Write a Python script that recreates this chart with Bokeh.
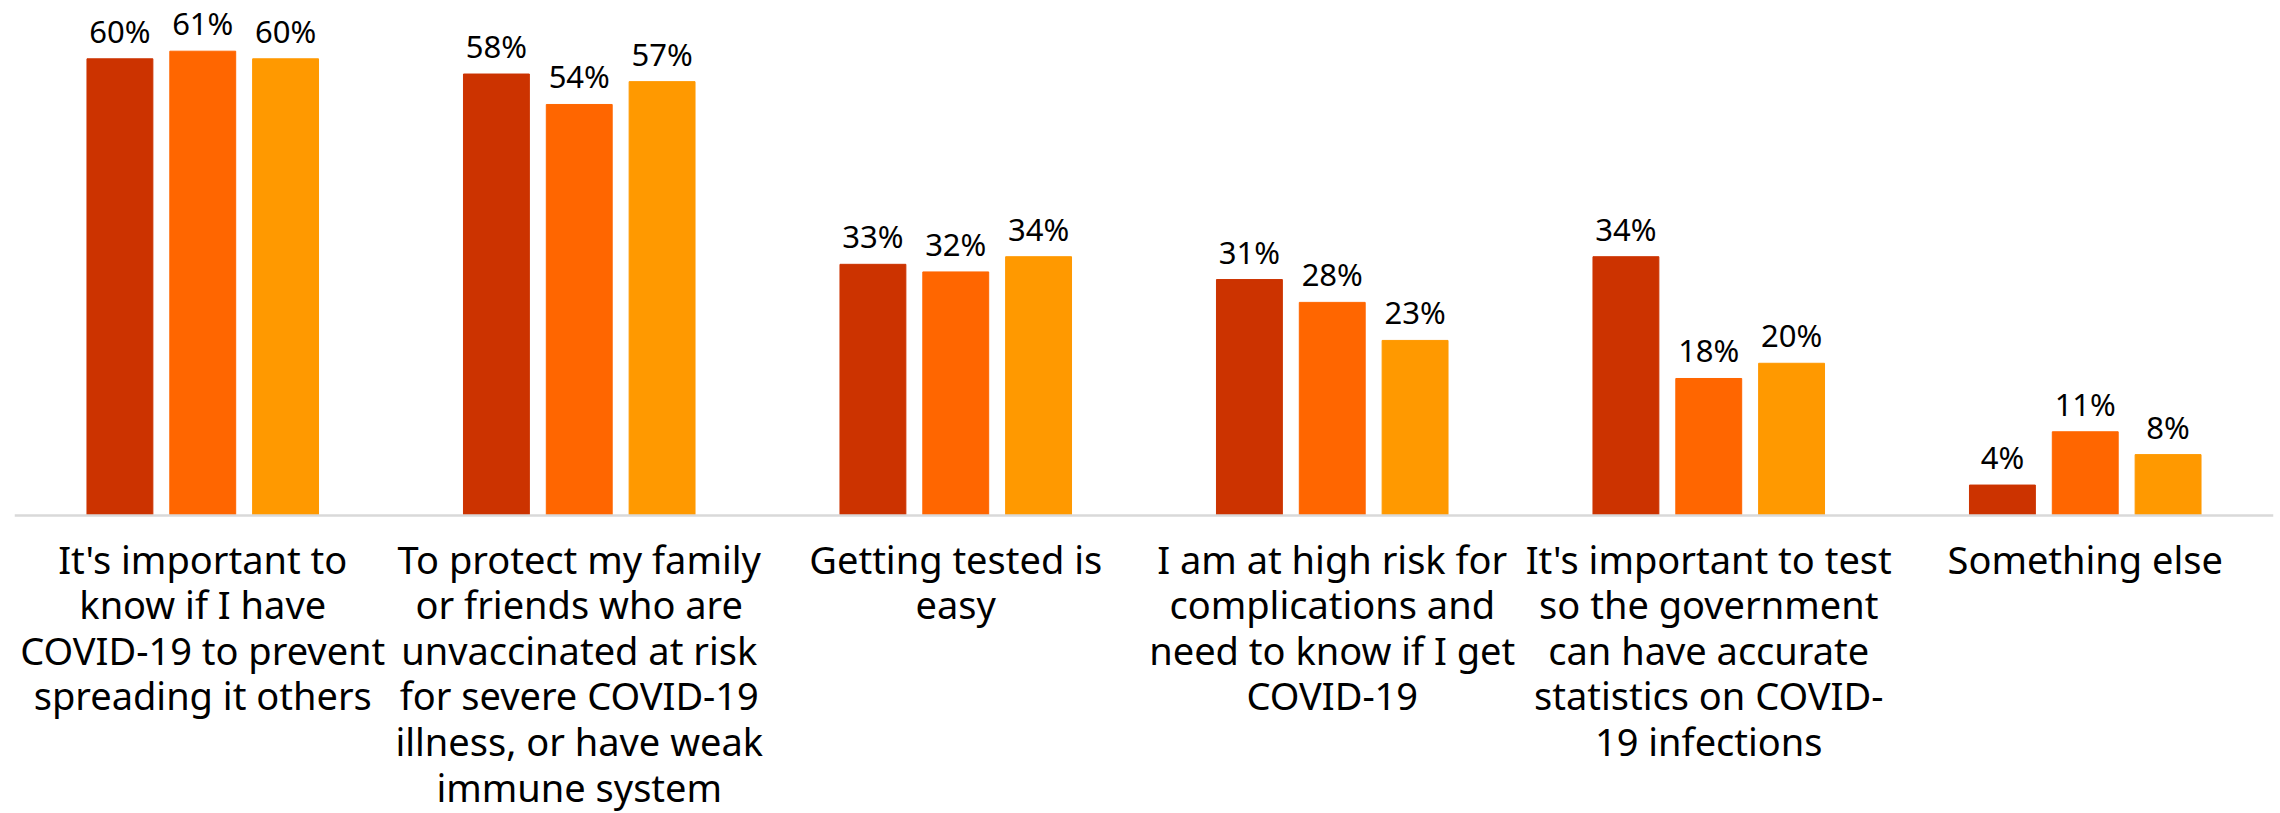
from bokeh.plotting import figure
from bokeh.models import ColumnDataSource, FactorRange, Range1d, Span
from bokeh.transform import dodge
from bokeh.embed import file_html
from bokeh.resources import INLINE
from bokeh.core.properties import value

categories = [
    "It's important to\nknow if I have\nCOVID-19 to prevent\nspreading it others",
    "To protect my family\nor friends who are\nunvaccinated at risk\nfor severe COVID-19\nillness, or have weak\nimmune system",
    "Getting tested is\neasy",
    "I am at high risk for\ncomplications and\nneed to know if I get\nCOVID-19",
    "It's important to test\nso the government\ncan have accurate\nstatistics on COVID-\n19 infections",
    "Something else",
]
series_a = [60, 58, 33, 31, 34, 4]
series_b = [61, 54, 32, 28, 18, 11]
series_c = [60, 57, 34, 23, 20, 8]
colors = ["#CC3300", "#FF6600", "#FF9900"]

src = ColumnDataSource(data=dict(
    cat=categories,
    base=[0] * len(categories),
    a=series_a, b=series_b, c=series_c,
    la=[f"{v}%" for v in series_a],
    lb=[f"{v}%" for v in series_b],
    lc=[f"{v}%" for v in series_c],
))

p = figure(
    x_range=FactorRange(factors=categories, range_padding=0),
    y_range=Range1d(-39.15, 67.66),
    width=2280, height=813,
    output_backend="svg", toolbar_location=None,
    min_border_left=14, min_border_right=7, min_border_top=0, min_border_bottom=0,
)

offsets = [-0.22, 0.0, 0.22]
fields = ["a", "b", "c"]
labels = ["la", "lb", "lc"]
for off, f, lab, col in zip(offsets, fields, labels, colors):
    x = dodge("cat", off, range=p.x_range)
    p.vbar(x=x, top=f, width=0.175, source=src, fill_color=col, line_color=col)
    p.text(x=x, y=f, text=lab, source=src, text_align="center",
           text_baseline="alphabetic", y_offset=-28,
           text_font=value("Noto Sans"), text_font_size="31px", text_color="#000000")

# category labels under the baseline
p.text(x="cat", y="base", text="cat", source=src, text_align="center",
       text_baseline="top", y_offset=17, text_line_height=0.877,
       text_font=value("Noto Sans"), text_font_size="38px", text_color="#000000")

p.add_layout(Span(location=0, dimension="width", line_color="#D9D9D9", line_width=2.5))

p.xgrid.visible = False
p.ygrid.visible = False
p.xaxis.visible = False
p.yaxis.visible = False
p.outline_line_color = None

open("out.html", "w").write(file_html(p, INLINE))
